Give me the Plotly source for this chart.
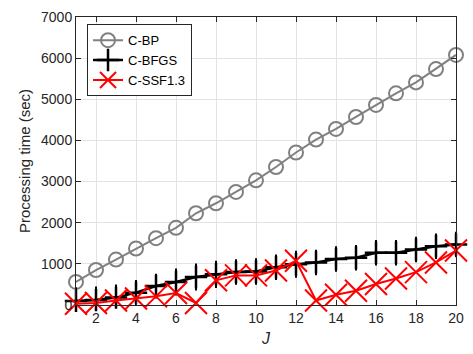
import plotly.graph_objects as go

J = list(range(1, 21))
bp = [560, 850, 1105, 1374, 1624, 1876, 2230, 2473, 2748, 3030,
      3354, 3707, 4021, 4280, 4570, 4862, 5145, 5411, 5734, 6078]
bfgs = [100, 120, 180, 300, 460, 560, 680, 745, 800, 815,
        917, 990, 1035, 1120, 1150, 1270, 1270, 1350, 1430, 1470]
bfgs_err = [330, 330, 320, 310, 300, 330, 330, 330, 310, 320,
            310, 330, 310, 310, 310, 310, 310, 310, 310, 310]
ssf = [30, 50, 110, 160, 210, 290, 50, 600, 720, 720,
       840, 1075, 110, 250, 345, 510, 645, 800, 1035, 1325]

xticks = list(range(2, 21, 2))
yticks = list(range(0, 7001, 1000))

fig = go.Figure()
fig.add_trace(go.Scatter(
    x=J, y=bp, name="C-BP", mode="lines+markers",
    line=dict(color="#808080", width=2),
    marker=dict(symbol="circle-open", size=14, color="#808080", line=dict(width=2)),
    cliponaxis=False))
fig.add_trace(go.Scatter(
    x=J, y=bfgs, name="C-BFGS", mode="lines+markers",
    line=dict(color="black", width=2.5),
    marker=dict(symbol="cross-thin-open", size=16, color="black", line=dict(width=2.5, color="black")),
    error_y=dict(type="data", array=bfgs_err, visible=True, width=0, thickness=2, color="black"),
    cliponaxis=False))
fig.add_trace(go.Scatter(
    x=J, y=ssf, name="C-SSF1.3", mode="lines+markers",
    line=dict(color="#ff0000", width=2),
    marker=dict(symbol="x-thin-open", size=22, color="#ff0000", line=dict(width=2, color="#ff0000")),
    cliponaxis=False))

axis_common = dict(
    showline=True, linecolor="#262626", linewidth=1, mirror="ticks",
    ticks="inside", ticklen=5, tickcolor="#262626",
    showgrid=True, gridcolor="#e3e3e3", gridwidth=1,
    zeroline=False, tickfont=dict(size=14, color="#262626"),
)

fig.update_layout(
    width=473, height=354,
    margin=dict(l=76, r=14, t=9, b=48),
    paper_bgcolor="white", plot_bgcolor="white",
    font=dict(family="Liberation Sans, Arial, sans-serif", color="#262626"),
    xaxis=dict(range=[1, 20], tickvals=xticks, ticktext=[str(v) for v in xticks],
               title=dict(text="<i>J</i>", font=dict(size=16), standoff=8), **axis_common),
    yaxis=dict(range=[0, 7000], tickvals=yticks, ticktext=[str(v) for v in yticks],
               title=dict(text="Processing time (sec)", font=dict(size=15), standoff=6), **axis_common),
    legend=dict(x=0.029, y=0.975, xanchor="left", yanchor="top",
                bgcolor="white", bordercolor="#262626", borderwidth=1,
                font=dict(size=13, color="black"), tracegroupgap=0, itemwidth=30),
    showlegend=True,
)

fig.write_html("out.html", config={"displayModeBar": False},
               post_script="document.body.style.margin='0';document.body.style.padding='0';")
